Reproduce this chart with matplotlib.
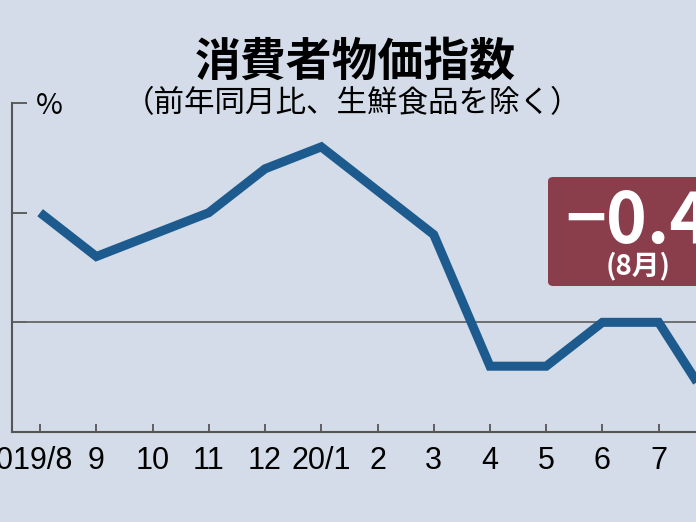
import matplotlib
matplotlib.use("Agg")
import matplotlib.pyplot as plt
from matplotlib.patches import FancyBboxPatch
from matplotlib.transforms import ScaledTranslation

# monthly values, % change year on year (core CPI)
months = ["2019/8", "9", "10", "11", "12", "20/1", "2", "3", "4", "5", "6", "7", "8"]
cpi = [0.5, 0.3, 0.4, 0.5, 0.7, 0.8, 0.6, 0.4, -0.2, -0.2, 0.0, 0.0, -0.4]
yticks = [-0.5, 0.0, 0.5, 1.0]

bg = "#d3dce8"
line_col = "#1d5a8d"
box_col = "#8a3d4b"
cjk = ["Noto Sans CJK JP", "DejaVu Sans"]

fig = plt.figure(figsize=(6.96, 5.22), dpi=100)
fig.patch.set_facecolor(bg)

ax = fig.add_axes([12 / 696, 90 / 522, 731 / 696, 329 / 522])
ax.set_facecolor("none")
ax.set_xlim(-0.5, 12.5)
ax.set_ylim(-0.5, 1.0)

x = list(range(len(months)))
ax.plot(x, cpi, color=line_col, lw=6.5, solid_capstyle="butt",
        solid_joinstyle="miter", clip_on=False, zorder=3)
ax.axhline(0, color="#666666", lw=1.3, zorder=2)

for s in ["top", "right"]:
    ax.spines[s].set_visible(False)
for s in ["left", "bottom"]:
    ax.spines[s].set_color("#555555")
    ax.spines[s].set_linewidth(1.5)

ax.set_yticks(yticks)
ax.set_yticklabels([])
ax.tick_params(axis="y", direction="in", length=11, width=1.3, color="#555555")
ax.set_xticks(x)
ax.set_xticklabels(months, fontfamily="Liberation Sans", fontsize=22)
ax.tick_params(axis="x", direction="in", length=6, width=1.3, color="#555555", pad=10)

# first label sits a bit left of its tick in the original
lbl = ax.get_xticklabels()[0]
lbl.set_transform(lbl.get_transform() + ScaledTranslation(-14 / 100, 0, fig.dpi_scale_trans))

fig.text(36 / 696, 1 - 106 / 522, "%", fontsize=21, family=cjk, va="center", ha="left")

fig.text(355 / 696, 1 - 63 / 522, "消費者物価指数", fontsize=33, fontweight="bold",
         family=cjk, ha="center", va="center")
fig.text(352 / 696, 1 - 104 / 522, "（前年同月比、生鮮食品を除く）", fontsize=22,
         family=cjk, ha="center", va="center")

# callout box for latest value
box = FancyBboxPatch((548 / 696, 1 - 286 / 522), 0.3, 109 / 522,
                     boxstyle="round,pad=0,rounding_size=0.008",
                     transform=fig.transFigure, facecolor=box_col, edgecolor="none")
fig.patches.append(box)
fig.text(565 / 696, 1 - 243 / 522, "−0.4%", fontsize=50, fontweight="bold",
         color="white", family=cjk, ha="left", va="baseline")
fig.text(606 / 696, 1 - 266 / 522, "(8月)", fontsize=20, fontweight="bold",
         color="white", family=cjk, ha="left", va="center")

fig.savefig("out.png", dpi=100, facecolor=bg)
